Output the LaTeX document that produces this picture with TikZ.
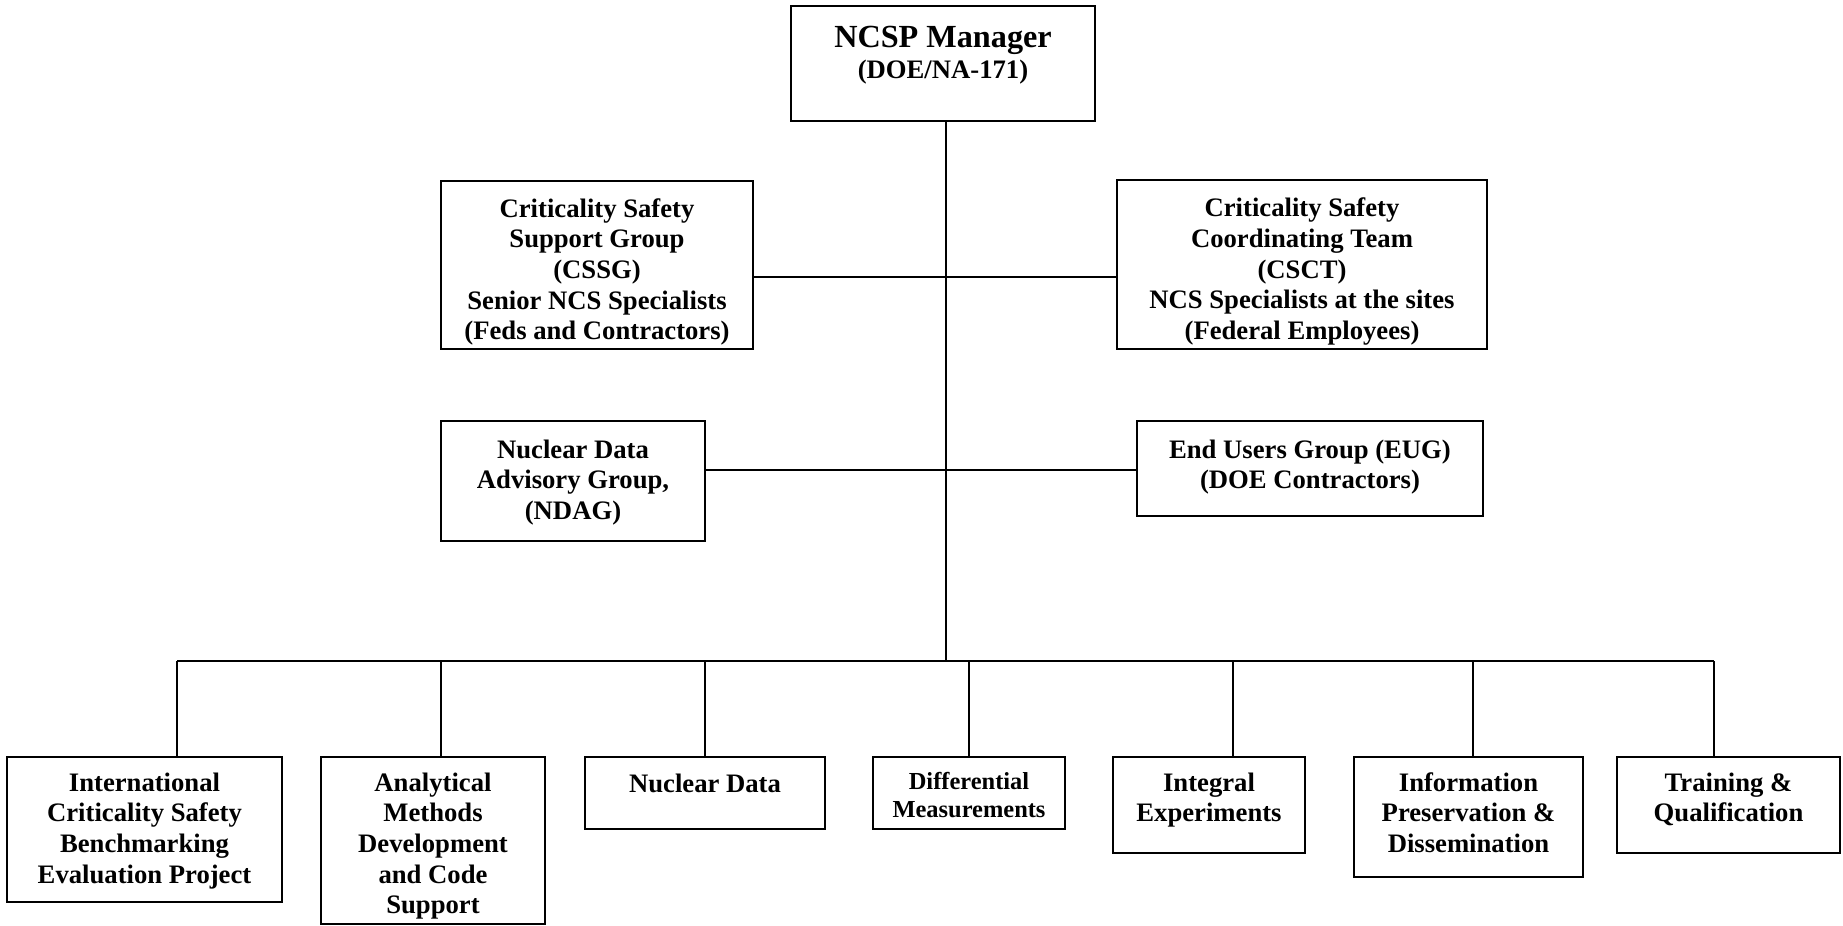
\documentclass[tikz,border=0pt]{standalone}
\usepackage{fontspec}
\setmainfont{Liberation Serif}
\usetikzlibrary{calc}
\usetikzlibrary{fit}

\tikzset{
  box/.style={draw, line width=1.3pt, inner sep=0pt},
  txt/.style={anchor=north, align=center, inner sep=0pt, font=\fontsize{12}{13.8}\selectfont\bfseries},
  link/.style={line width=0.8pt},
}

\begin{document}
\begin{tikzpicture}[x=0.45pt,y=-0.45pt]
  \useasboundingbox (0,0) rectangle (1843,926);

  % Manager
  \node[box, fit={(791,6) (1095,121)}] (mgr) {};
  \node[txt] (mgr-t) at ($(mgr.north)+(0,21)$) {{\fontsize{14.5}{16}\selectfont NCSP Manager}\\(DOE/NA-171)};

  % Support groups
  \node[box, fit={(441,181) (753,349)}] (cssg) {};
  \node[txt] (cssg-t) at ($(cssg.north)+(0,18.5)$) {Criticality Safety\\Support Group\\(CSSG)\\Senior NCS Specialists\\(Feds and Contractors)};
  \node[box, fit={(1117,180) (1487,349)}] (csct) {};
  \node[txt] (csct-t) at ($(csct.north)+(0,19)$) {Criticality Safety\\Coordinating Team\\(CSCT)\\NCS Specialists at the sites\\(Federal Employees)};

  \node[box, fit={(441,421) (705,541)}] (ndag) {};
  \node[txt] (ndag-t) at ($(ndag.north)+(0,19.5)$) {Nuclear Data\\Advisory Group,\\(NDAG)};
  \node[box, fit={(1137,421) (1483,516)}] (eug) {};
  \node[txt] (eug-t) at ($(eug.north)+(0,19.5)$) {End Users Group (EUG)\\(DOE Contractors)};

  % Program elements
  \node[box, fit={(7,757) (282,902)}] (icsbep) {};
  \node[txt] (icsbep-t) at ($(icsbep.north)+(0,16.5)$) {International\\Criticality Safety\\Benchmarking\\Evaluation Project};
  \node[box, fit={(321,757) (545,924)}] (amdcs) {};
  \node[txt] (amdcs-t) at ($(amdcs.north)+(0,16.5)$) {Analytical\\Methods\\Development\\and Code\\Support};
  \node[box, fit={(585,757) (825,829)}] (nd) {};
  \node[txt] (nd-t) at ($(nd.north)+(0,17.5)$) {Nuclear Data};
  \node[box, fit={(873,757) (1065,829)}] (dm) {};
  \node[txt, font=\fontsize{11}{12.6}\selectfont\bfseries] (dm-t) at ($(dm.north)+(0,16)$) {Differential\\Measurements};
  \node[box, fit={(1113,757) (1305,853)}] (ie) {};
  \node[txt] (ie-t) at ($(ie.north)+(0,16.5)$) {Integral\\Experiments};
  \node[box, fit={(1354,757) (1583,877)}] (ipd) {};
  \node[txt] (ipd-t) at ($(ipd.north)+(0,16.5)$) {Information\\Preservation \&\\Dissemination};
  \node[box, fit={(1617,757) (1840,853)}] (tq) {};
  \node[txt] (tq-t) at ($(tq.north)+(0,16.5)$) {Training \&\\Qualification};

  % Trunk and side links
  \coordinate (bus) at (946,661);
  \draw[link] (mgr.south -| bus) -- (bus);
  \coordinate (row1) at (946,277);
  \draw[link] (cssg.east |- row1) -- (csct.west |- row1);
  \coordinate (row2) at (946,470);
  \draw[line width=1.3pt] (ndag.east |- row2) -- (eug.west |- row2);

  % Bus and drops
  \foreach \nm/\x in {icsbep/177,amdcs/441,nd/705,dm/969,ie/1233,ipd/1473,tq/1714}
  {
    \coordinate (d-\nm) at (\x,661);
    \draw[link] (d-\nm) -- (d-\nm |- \nm.north);
  }
  \draw[link] (d-icsbep) -- (d-tq);
\end{tikzpicture}
\end{document}
